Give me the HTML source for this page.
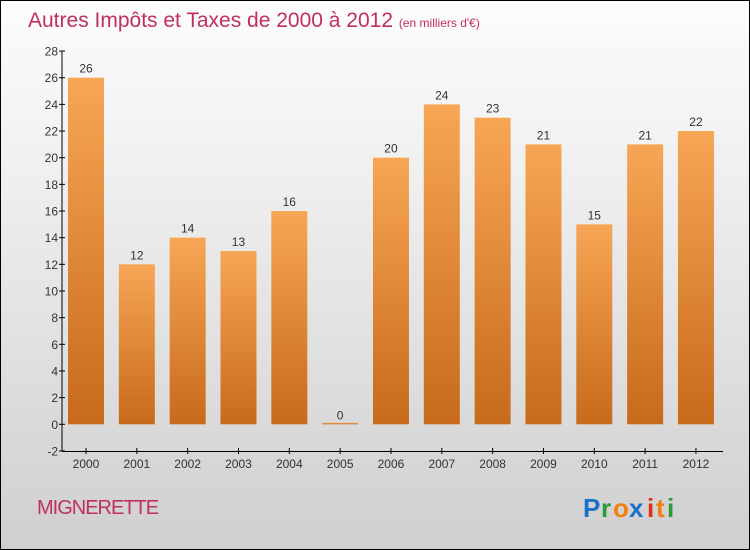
<!DOCTYPE html>
<html><head><meta charset="utf-8"><style>
body{margin:0}
#c{width:748px;height:548px;border:1px solid #000;background:linear-gradient(#fcfcfc,#f0f0f0 30%,#cfcfcf);position:relative;font-family:"Liberation Sans",sans-serif;overflow:hidden}
</style></head><body>
<div id="c">
<svg id="s" width="748" height="548" style="position:absolute;left:0;top:0">
<defs><linearGradient id="g" x1="0" y1="0" x2="0" y2="1"><stop offset="0" stop-color="#f7a655"/><stop offset="1" stop-color="#c76a1b"/></linearGradient></defs>
<text x="27" y="26" font-size="21" fill="#c0305e">Autres Impôts et Taxes de 2000 à 2012 <tspan font-size="12">(en milliers d'€)</tspan></text>
<text x="36" y="513" font-size="20" fill="#c0305e" letter-spacing="-1">MIGNERETTE</text>
<g font-size="26" font-weight="bold" font-family="Liberation Sans,sans-serif">
<text x="582" y="516" fill="#1a72c8">P</text><text x="600" y="516" fill="#2a9a3a">r</text><text x="612" y="516" fill="#f08010">o</text><text x="628" y="516" fill="#1a72c8">x</text><text x="646" y="516" fill="#e03010">i</text><text x="655" y="516" fill="#f08010">t</text><text x="666" y="516" fill="#2a9a3a">i</text></g>
<g id="plot"></g>
</svg></div>
<script>
const years=["2000","2001","2002","2003","2004","2005","2006","2007","2008","2009","2010","2011","2012"];
const values=[26,12,14,13,16,0,20,24,23,21,15,21,22];
const ticks=[-2,0,2,4,6,8,10,12,14,16,18,20,22,24,26,28];
const y=v=>423.3-(v)*13.33;
const x=i=>85+i*50.83;
const ns="http://www.w3.org/2000/svg",p=document.getElementById('plot');
function mk(t,a,txt){const e=document.createElementNS(ns,t);for(const k in a)e.setAttribute(k,a[k]);if(txt!==undefined)e.textContent=txt;p.appendChild(e);return e;}
let e;
e=mk('line',{x1:61,y1:50,x2:61,y2:450.5,stroke:'#000'});


e=mk('line',{x1:61,y1:450.5,x2:722,y2:450.5,stroke:'#000'});


ticks.forEach(t=>{const yy=y(t);
mk('line',{x1:58,y1:yy,x2:64,y2:yy,stroke:'#000'});
e=mk('text',{x:57,y:yy+4.5,'font-size':12,fill:'#333','text-anchor':'end'},t);

});
years.forEach((yr,i)=>{const cx=x(i),v=values[i];
mk('line',{x1:cx,y1:447,x2:cx,y2:453,stroke:'#000'});
e=mk('text',{x:cx,y:467,'font-size':12,fill:'#333','text-anchor':'middle'},yr);


const top=y(v),h=Math.max(y(0)-top,1.5);
e=mk('rect',{x:cx-18,y:Math.min(top,y(0)-1.5),width:36,height:h,fill:'url(#g)'});


e=mk('text',{x:cx,y:Math.min(top,y(0))-5,'font-size':12,fill:'#333','text-anchor':'middle'},v);

});
</script></body></html>
